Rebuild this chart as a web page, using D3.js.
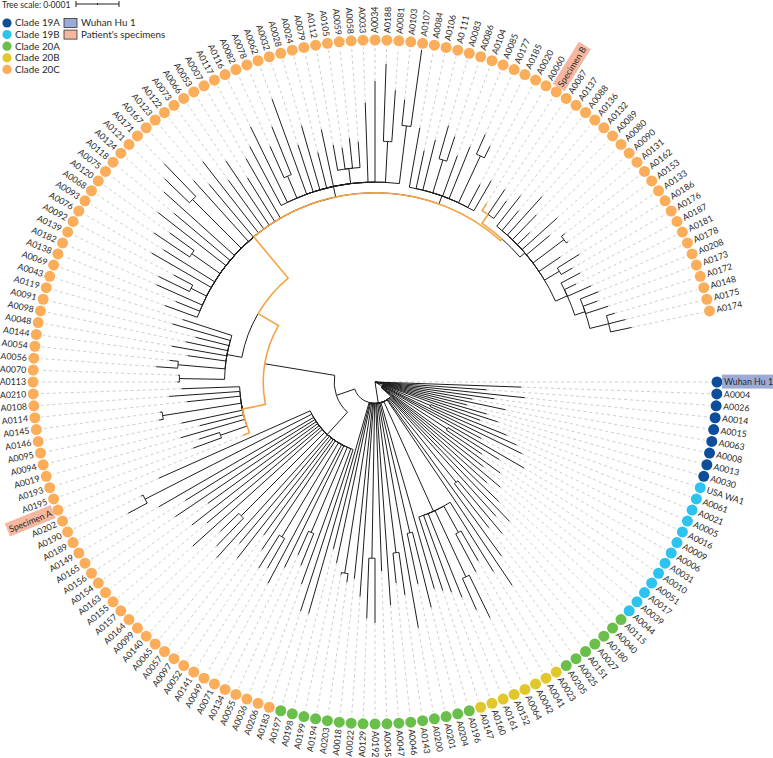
<!DOCTYPE html>
<html><head><meta charset="utf-8">
<script src="https://cdn.jsdelivr.net/npm/d3@7"></script>
<style>
body{margin:0;background:#fff}
text{font-family:Lato,"Open Sans",sans-serif;fill:#2a2a2a}
</style></head>
<body><svg id="chart" width="773" height="758"></svg>
<script>
// ---------------- DATA ----------------
const clade19A = ["Wuhan_Hu_1","A0004","A0026","A0014","A0015","A0063","A0008","A0013","A0030"];
const clade19B = ["USA_WA1","A0061","A0021","A0005","A0016","A0009","A0006","A0031","A0010","A0051","A0017","A0039","A0044"];
const clade20A = ["A0115","A0040","A0180","A0027","A0151","A0025","A0205","A0196","A0204","A0201","A0200","A0143","A0046","A0047","A0045","A0192","A0129","A0022","A0018","A0203","A0194","A0199","A0198","A0197"];
const clade20B = ["A0023","A0041","A0042","A0064","A0152","A0161","A0160","A0147"];
// every other leaf belongs to clade 20C
const referenceGenome = ["Wuhan_Hu_1"];
const patientSpecimens = ["Specimen_A","Specimen_B"];

const legendClades = ["Clade 19A","Clade 19B","Clade 20A","Clade 20B","Clade 20C"];
const cladeColors  = ["#0d4e9b","#2dc3ef","#6abf4b","#e2c72a","#fbad5a"];
const legendBoxes  = ["Wuhan Hu 1","Patient's specimens"];
const boxColors    = ["#9eaad6","#f6b7a0"];
const treeScaleValue = 0.0001;
const treeScaleLabel = "Tree scale: 0·0001";

// branch lengths in units of 1e-5 substitutions per site
const tree19A = "Wuhan_Hu_1:0,A0004:34,A0026:26,A0014:35,A0015:28,A0063:23,A0008:31,A0013:22,A0030:27";
const tree19B = "(USA_WA1:28,A0061:24,(A0021:19,A0005:22):12,A0016:36,A0009:26,A0006:38,(A0031:14,A0010:10):18,A0051:34,A0017:30,A0039:36,A0044:33):2";
const tree20B = "(A0023:19,(A0041:8,A0042:10):7,(A0064:11,A0152:8):17,A0161:21,A0160:19,A0147:18):28";
const tree20A_1 = "A0115:35,A0040:40,A0180:37,(A0027:16,A0151:13):25,A0025:45,A0205:52";
const tree20A_2 = "A0196:45,(A0204:18,A0201:12):31,A0200:53,(A0143:10,A0046:7):35,A0047:47,A0045:39,(A0192:15,A0129:14):36,A0022:45,A0018:41,(A0203:2,A0194:0.5):40,A0199:38,A0198:35,A0197:51";
const tree20C_G1 = "(A0183:39.5,A0206:33.5,(A0036:8,A0055:6):21.5,A0134:31.5,A0071:36.5,(A0049:8,A0141:9):25.5,A0052:30.5,A0097:27.5,A0057:35.5,A0065:32.5,A0140:38.5,(A0099:9,A0164:6):27.5,A0157:40.5,A0155:34.5,A0163:37.5,A0154:31.5,A0156:39.5,A0165:35.5,A0149:41.5,(A0189:5,A0190:0.5):43.5,A0202:38.5):7";
const tree20C_MA = "(Specimen_A:1.5,(A0195:7,A0193:5):6.5,A0019:15.5,A0094:10.5,A0095:14.5,(A0146:1,A0145:0.5):18.5,A0114:12.5,A0108:16.5,A0210:13.5):5.5";
const tree20C_L1 = "((A0113:0.5,A0070:0.3):10.5,(A0056:5,A0054:2):11,A0144:9,A0048:13,A0098:10,A0091:8,A0119:14,A0043:12):3.5";
const tree20C_L2 = "A0069:8,A0138:6,A0182:11.6,(A0139:8,A0092:5):4,A0076:16,A0093:14,(A0068:10,A0120:7):8,A0075:20,A0118:17,A0124:22,(A0121:8,A0171:10.5):16,A0167:19,A0123:16,A0122:21,A0073:14,A0066:18,A0053:12,A0007:16";
const tree20C_T = "(A0117:15.5,A0116:19.5,(A0082:8,A0078:12):5.5,A0062:23.5,A0032:11.5,A0028:15.5,A0024:8.5,A0079:13.5,(A0112:6,A0105:5,A0059:7,A0058:6):3.5,A0033:18.5,A0034:23.5,(A0188:18,A0081:12):9.5,(A0103:6,A0107:18):13.5):2.5";
const tree20C_Q = "(A0084:14,A0106:9,A0_111:12,(A0083:8,A0086:6):8,A0104:10,A0085:13,(A0177:5,A0185:3):12,A0020:6,A0060:8):2";
const tree20C_R = "((Specimen_B:2,A0087:7,A0137:5):2.5,(A0088:9,A0136:6,A0132:12,A0089:8,A0080:4,A0090:11,A0131:7,(A0162:1,A0153:0.5):9,A0133:6,(A0186:6,A0176:3):4,(A0187:5,A0181:3,A0178:6,(A0208:4.5,A0173:3.5,A0172:5.5,(A0148:2,A0175:4,A0174:5):4.5):2.5):3):1.5):0.5";
const tree20C = "(" + tree20C_G1 + ",(" + tree20C_MA + ",(" + tree20C_L1 + ",(" + tree20C_L2 + "," + tree20C_T + "," + tree20C_Q + "," + tree20C_R + "):12.5):5.5):16.5):4.5";
const tree20A = "(" + tree20A_1 + "," + tree20B + "," + tree20A_2 + "," + tree20C + "):5";
const treeNewick = "(" + tree19A + "," + tree19B + "," + tree20A + ");";
const lengthUnit = 1e-5;

// ---------------- PARSE ----------------
function parseNewick(a){
  const ancestors=[]; let tree={}; const tokens=a.split(/\s*(;|\(|\)|,|:)\s*/);
  for(let i=0;i<tokens.length;i++){
    const t=tokens[i];
    if(t==='('){const s={};tree.children=[s];ancestors.push(tree);tree=s;}
    else if(t===','){const s={};ancestors[ancestors.length-1].children.push(s);tree=s;}
    else if(t===')'){tree=ancestors.pop();}
    else if(t===':'||t===';'||t===''){}
    else{const p=tokens[i-1]; if(p===':') tree.length=parseFloat(t); else tree.name=t;}
  }
  return tree;
}

// ---------------- LAYOUT ----------------
const cx=375,cy=382;
const svg=d3.select("#chart");
const root=d3.hierarchy(parseNewick(treeNewick));
root.eachBefore(d=>{d.dist=d.parent?d.parent.dist+(d.data.length||0)*lengthUnit:0;});
const leaves=root.leaves();
const angle=d3.scaleLinear().domain([0,leaves.length-1]).range([0,348]);
leaves.forEach((d,i)=>d.ang=angle(i));
root.eachAfter(d=>{if(d.children){d.ang=d3.mean(d.children,c=>c.ang);}});
const rS=d3.scaleLinear().domain([0,treeScaleValue]).range([0,43]);
const rad=a=>a*Math.PI/180;
const P=(a,r)=>[cx+r*Math.cos(rad(a)),cy+r*Math.sin(rad(a))];

function cladeColor(name){
  if(clade19A.includes(name))return cladeColors[0];
  if(clade19B.includes(name))return cladeColors[1];
  if(clade20A.includes(name))return cladeColors[2];
  if(clade20B.includes(name))return cladeColors[3];
  return cladeColors[4];
}

// lineage joining the two patient specimens
const specLeaves=leaves.filter(d=>patientSpecimens.includes(d.data.name));
let mrca=specLeaves[0];
while(!specLeaves.every(s=>s.ancestors().includes(mrca)))mrca=mrca.parent;
const hl=new Set();
specLeaves.forEach(s=>{let n=s;while(n&&n!==mrca){hl.add(n);n=n.parent;}});

// dashed leaf extensions
const rDot=342, rDashEnd=335;
svg.append("g").selectAll("line").data(leaves).join("line")
  .attr("x1",d=>P(d.ang,rS(d.dist))[0]).attr("y1",d=>P(d.ang,rS(d.dist))[1])
  .attr("x2",d=>P(d.ang,rDashEnd)[0]).attr("y2",d=>P(d.ang,rDashEnd)[1])
  .attr("stroke","#b8b8b8").attr("stroke-width",0.7).attr("stroke-dasharray","3,3");

// branches
const nodes=root.descendants().filter(d=>d.parent);
function branchPath(d){
  const a0=d.parent.ang,a1=d.ang,r0=rS(d.parent.dist),r1=rS(d.dist);
  const p0=P(a0,r0),p1=P(a1,r0),p2=P(a1,r1);
  const sweep=a1>a0?1:0,large=Math.abs(a1-a0)>180?1:0;
  return `M${p0[0]},${p0[1]}A${r0},${r0} 0 ${large} ${sweep} ${p1[0]},${p1[1]}L${p2[0]},${p2[1]}`;
}
svg.append("g").selectAll("path").data(nodes.filter(d=>!hl.has(d))).join("path")
  .attr("d",branchPath).attr("fill","none").attr("stroke","#1e1e1e").attr("stroke-width",1);
svg.append("g").selectAll("path").data(nodes.filter(d=>hl.has(d))).join("path")
  .attr("d",branchPath).attr("fill","none").attr("stroke","#f5a443").attr("stroke-width",1.6);

// dots
svg.append("g").selectAll("circle").data(leaves).join("circle")
  .attr("cx",d=>P(d.ang,rDot)[0]).attr("cy",d=>P(d.ang,rDot)[1]).attr("r",5.5)
  .attr("fill",d=>cladeColor(d.data.name));

// labels
const rLab=349;
const lab=svg.append("g").selectAll("g").data(leaves).join("g")
  .attr("transform",d=>{const flip=d.ang>90&&d.ang<270;return `rotate(${d.ang},${cx},${cy}) translate(${cx+rLab},${cy})`+(flip?" rotate(180)":"");});
lab.each(function(d){
  const g=d3.select(this);const flip=d.ang>90&&d.ang<270;
  const name=d.data.name.replace(/_/g," ");
  const t=g.append("text").attr("x",0).attr("dy","0.35em").attr("font-size",8.8)
    .attr("text-anchor",flip?"end":"start").text(name);
  let fill=null;
  if(referenceGenome.includes(d.data.name))fill=boxColors[0];
  if(patientSpecimens.includes(d.data.name))fill=boxColors[1];
  if(fill){const b=t.node().getBBox();g.insert("rect","text").attr("x",b.x-2).attr("y",b.y-1.5).attr("width",b.width+4).attr("height",b.height+3).attr("fill",fill);}
});

// legend
const lg=svg.append("g");
lg.append("text").attr("x",2).attr("y",7.5).attr("font-size",8.6).text(treeScaleLabel);
const sb0=76, sb1=76+rS(treeScaleValue);
lg.append("line").attr("x1",sb0).attr("x2",sb1).attr("y1",4).attr("y2",4).attr("stroke","#222");
[sb0,(sb0+sb1)/2,sb1].forEach((x,i)=>lg.append("line").attr("x1",x).attr("x2",x).attr("y1",i===1?3:1).attr("y2",i===1?5:7).attr("stroke","#222"));
legendClades.forEach((c,i)=>{
  lg.append("circle").attr("cx",7).attr("cy",23+i*11.6).attr("r",4.6).attr("fill",cladeColors[i]);
  lg.append("text").attr("x",15).attr("y",23+i*11.6).attr("dy","0.35em").attr("font-size",9.8).text(c);
});
legendBoxes.forEach((c,i)=>{
  lg.append("rect").attr("x",64).attr("y",18.5+i*11.6).attr("width",13).attr("height",9).attr("fill",boxColors[i]).attr("stroke","#333").attr("stroke-width",0.8);
  lg.append("text").attr("x",81).attr("y",23+i*11.6).attr("dy","0.35em").attr("font-size",9.8).text(c);
});
</script></body></html>
